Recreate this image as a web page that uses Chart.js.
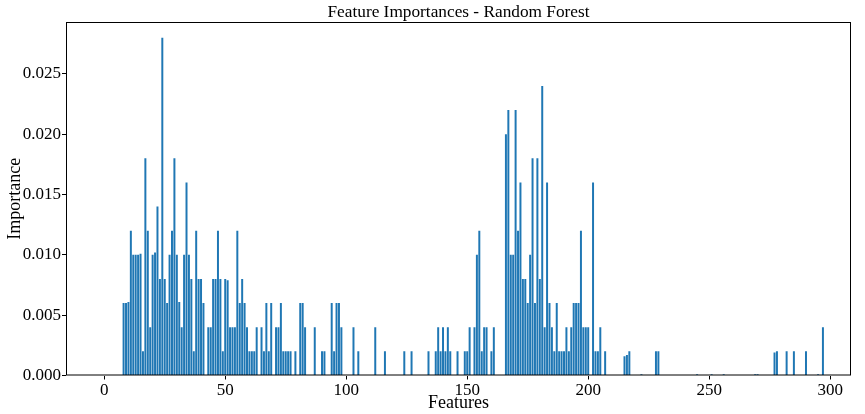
<!DOCTYPE html>
<html>
<head>
<meta charset="utf-8">
<title>Feature Importances - Random Forest</title>
<script src="https://cdn.jsdelivr.net/npm/chart.js@4.4.1/dist/chart.umd.min.js"></script>
<style>
  html, body { margin: 0; padding: 0; background: #fff; }
  #canvas { display: block; }
</style>
</head>
<body>
<canvas id="canvas" width="865" height="414"></canvas>
<script>
const chartTitle = 'Feature Importances - Random Forest'

// feature index -> importance (features not listed have zero importance)
const featureIds = [
    8, 9, 10, 11, 12, 13, 14, 15, 16, 17, 18, 19, 20, 21, 22, 23, 24, 25, 26, 27,
    28, 29, 30, 31, 32, 33, 34, 35, 36, 37, 38, 39, 40, 41, 43, 44, 45, 46, 47, 48,
    49, 50, 51, 52, 53, 54, 55, 56, 57, 58, 59, 60, 61, 62, 63, 65, 66, 67, 68, 69,
    71, 72, 73, 74, 75, 76, 77, 79, 81, 82, 83, 87, 90, 91, 94, 95, 96, 97, 98, 103,
    105, 112, 116, 124, 127, 134, 137, 138, 139, 140, 141, 142, 143, 146, 149, 150, 151, 153, 154, 155,
    156, 157, 158, 160, 161, 166, 167, 168, 169, 170, 171, 172, 173, 174, 175, 176, 177, 178, 179, 180,
    181, 182, 183, 184, 185, 186, 187, 188, 189, 190, 191, 192, 193, 194, 195, 196, 197, 198, 199, 200,
    202, 203, 204, 205, 207, 215, 216, 217, 222, 228, 229, 245, 251, 256, 269, 270, 277, 278, 282, 285,
    290, 295, 297
]
const importances = [
    0.006, 0.006, 0.0061, 0.012, 0.010, 0.010, 0.010, 0.0101, 0.002, 0.018, 0.012, 0.004, 0.010, 0.0102, 0.014, 0.008, 0.028, 0.008, 0.006, 0.010,
    0.012, 0.018, 0.010, 0.0061, 0.004, 0.010, 0.016, 0.010, 0.008, 0.002, 0.012, 0.008, 0.008, 0.006, 0.004, 0.004, 0.008, 0.008, 0.012, 0.008,
    0.002, 0.008, 0.0079, 0.004, 0.004, 0.004, 0.012, 0.006, 0.008, 0.006, 0.004, 0.002, 0.002, 0.002, 0.004, 0.004, 0.002, 0.006, 0.002, 0.006,
    0.004, 0.004, 0.006, 0.002, 0.002, 0.002, 0.002, 0.002, 0.006, 0.006, 0.004, 0.004, 0.002, 0.002, 0.006, 0.002, 0.006, 0.006, 0.004, 0.004,
    0.002, 0.004, 0.002, 0.002, 0.002, 0.002, 0.002, 0.004, 0.002, 0.004, 0.002, 0.004, 0.002, 0.002, 0.002, 0.002, 0.004, 0.004, 0.010, 0.012,
    0.002, 0.004, 0.004, 0.002, 0.004, 0.020, 0.022, 0.010, 0.010, 0.022, 0.012, 0.016, 0.008, 0.008, 0.006, 0.010, 0.018, 0.006, 0.018, 0.008,
    0.024, 0.004, 0.016, 0.006, 0.004, 0.002, 0.006, 0.002, 0.002, 0.002, 0.004, 0.002, 0.004, 0.006, 0.006, 0.006, 0.012, 0.004, 0.004, 0.004,
    0.016, 0.002, 0.002, 0.004, 0.002, 0.0016, 0.0017, 0.002, 0.0001, 0.002, 0.002, 0.0001, 0.0001, 0.0001, 0.0001, 0.0001, 0.0019, 0.002, 0.002, 0.002,
    0.002, 0.0001, 0.004
]

const xTicks = [0, 50, 100, 150, 200, 250, 300]
const yTicks = [0, 0.005, 0.010, 0.015, 0.020, 0.025]

const serif = '"Liberation Serif", "Times New Roman", serif'

// title centred over the axes box, plus the four-sided frame
const framePlugin = {
    id: 'frame',
    afterDraw(chart) {
        const { ctx, chartArea } = chart
        const { left, top, right, bottom } = chartArea
        ctx.save()
        ctx.strokeStyle = '#000'
        ctx.lineWidth = 1
        ctx.strokeRect(left + 0.5, top + 0.5, right - left - 1, bottom - top - 1)
        ctx.fillStyle = '#000'
        ctx.font = `17.3px ${serif}`
        ctx.textAlign = 'center'
        ctx.textBaseline = 'middle'
        ctx.fillText(chartTitle, (left + right) / 2, 12)
        ctx.restore()
    }
}

const ctx = document.getElementById('canvas').getContext('2d')

const chart = new Chart(ctx, {
    type: 'bar',
    data: {
        datasets: [
            {
                label: 'Importance',
                data: featureIds.map((f, i) => ({ x: f, y: importances[i] })),
                backgroundColor: '#1f77b4',
                borderWidth: 0,
                barPercentage: 0.82,
                categoryPercentage: 1.0
            }
        ]
    },
    options: {
        responsive: false,
        animation: false,
        layout: { padding: { top: 22, right: 14, bottom: 0, left: 0 } },
        plugins: {
            legend: { display: false },
            tooltip: { enabled: false },
            title: { display: false }
        },
        scales: {
            x: {
                type: 'linear',
                offset: false,
                min: -15.8,
                max: 308.6,
                afterBuildTicks: scale => { scale.ticks = xTicks.map(v => ({ value: v })) },
                afterFit: scale => { scale.height = 38.5 },
                grid: { offset: false, drawOnChartArea: false, color: '#000', tickLength: 4 },
                border: { display: false },
                ticks: {
                    color: '#000',
                    padding: 1,
                    maxRotation: 0,
                    autoSkip: false,
                    font: { family: serif, size: 17 },
                    callback: v => String(v)
                },
                title: {
                    display: true,
                    text: 'Features',
                    color: '#000',
                    padding: { top: 0, bottom: 0 },
                    font: { family: serif, size: 18 }
                }
            },
            y: {
                min: 0,
                max: 0.0293,
                afterBuildTicks: scale => { scale.ticks = yTicks.map(v => ({ value: v })) },
                afterFit: scale => { scale.width = 66 },
                grid: { drawOnChartArea: false, color: '#000', tickLength: 4 },
                border: { display: false },
                ticks: {
                    color: '#000',
                    padding: 1,
                    font: { family: serif, size: 17 },
                    callback: v => v.toFixed(3)
                },
                title: {
                    display: true,
                    text: 'Importance',
                    color: '#000',
                    padding: { top: 4, bottom: 0 },
                    font: { family: serif, size: 18 }
                }
            }
        }
    },
    plugins: [framePlugin]
})
</script>
</body>
</html>
